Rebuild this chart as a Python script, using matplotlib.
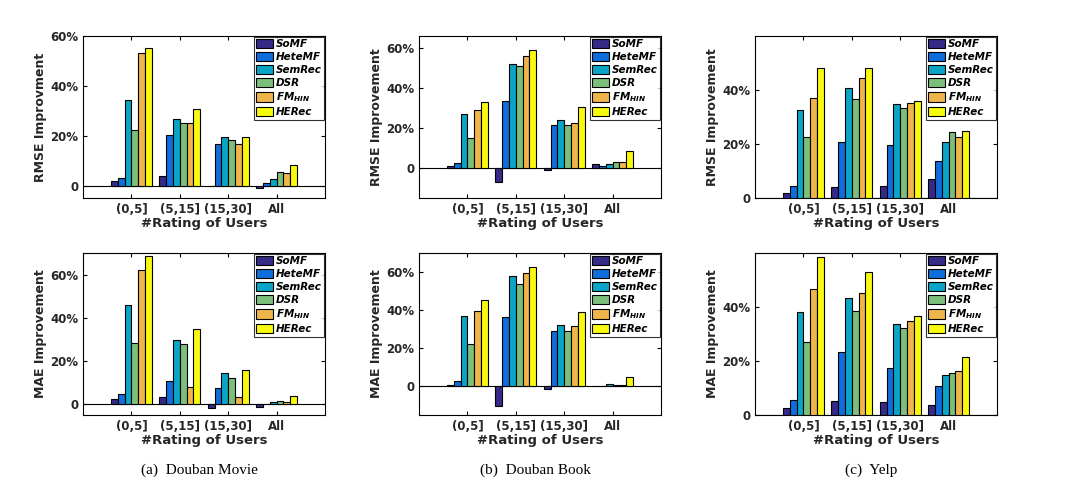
import matplotlib
matplotlib.use("Agg")
import matplotlib.pyplot as plt
import numpy as np
from matplotlib.ticker import FuncFormatter

plt.rcParams['mathtext.fontset'] = 'custom'
plt.rcParams['mathtext.it'] = 'DejaVu Sans:italic:bold'
plt.rcParams['mathtext.rm'] = 'DejaVu Sans:bold'

groups = ['(0,5]', '(5,15]', '(15,30]', 'All']
methods = ['SoMF', 'HeteMF', 'SemRec', 'DSR', r'$\mathit{FM}_{\mathit{HIN}}$', 'HERec']
colors = ['#352A87', '#0F6EDB', '#0AA5C6', '#7CBF7B', '#F0B54A', '#F8FA0D']

# values [group][method] in %
movie_rmse = [[2, 3, 34.5, 22.3, 53.3, 55.3],
              [3.7, 20.3, 26.8, 25.2, 25.2, 30.8],
              [-0.3, 16.8, 19.5, 18.3, 16.8, 19.5],
              [-0.8, 0.9, 2.8, 5.3, 4.9, 8.2]]
movie_mae = [[2.3, 4.6, 46, 28.3, 62.3, 68.8],
             [3.3, 10.7, 29.8, 28, 8, 35],
             [-1.8, 7.4, 14.4, 12, 3.2, 15.8],
             [-1.3, 0.1, 0.9, 1.4, 0.9, 3.6]]
book_rmse = [[1, 2.3, 27, 15.2, 29, 33],
             [-7, 33.5, 52.2, 51.2, 56.2, 59.2],
             [-1.2, 21.6, 24.1, 21.6, 22.6, 30.5],
             [1.8, 1, 1.8, 2.8, 2.8, 8.3]]
book_mae = [[1, 3, 37, 22, 39.5, 45.5],
            [-10.5, 36.3, 58, 53.7, 59.5, 62.6],
            [-1.5, 29, 32.1, 29, 31.5, 39],
            [0.4, 0.4, 1.4, 0.5, 1, 4.8]]
yelp_rmse = [[1.8, 4.4, 32.6, 22.6, 37, 48.2],
             [4, 20.7, 40.7, 36.7, 44.6, 48.2],
             [4.4, 19.6, 34.8, 33.4, 35.2, 35.9],
             [7, 13.6, 20.7, 24.4, 22.6, 24.9]]
yelp_mae = [[2.7, 5.7, 38.1, 27, 46.6, 58.5],
            [5.3, 23.3, 43.4, 38.4, 45.2, 52.9],
            [4.9, 17.3, 33.6, 32.1, 34.8, 36.6],
            [3.8, 10.6, 15, 15.7, 16.2, 21.4]]

captions = ['(a)  Douban Movie', '(b)  Douban Book', '(c)  Yelp']

W, H = 1067, 495
fig = plt.figure(figsize=(W / 100, H / 100), dpi=100)

lefts = [83, 419, 755]
width = 242
tops = [36, 253]
height = 162

panels = [
    (movie_rmse, 'RMSE Improvment', (-5, 60), [0, 20, 40, 60]),
    (book_rmse, 'RMSE Improvement', (-15, 66), [0, 20, 40, 60]),
    (yelp_rmse, 'RMSE Improvement', (0, 60), [0, 20, 40]),
    (movie_mae, 'MAE Improvement', (-5, 70), [0, 20, 40, 60]),
    (book_mae, 'MAE Improvement', (-15, 70), [0, 20, 40, 60]),
    (yelp_mae, 'MAE Improvement', (0, 60), [0, 20, 40]),
]

fmt = FuncFormatter(lambda v, p: '0' if v == 0 else f'{int(v)}%')
bw = 0.14
x = np.arange(1, len(groups) + 1)
for i, (data, ylabel, ylim, yticks) in enumerate(panels):
    r, c = divmod(i, 3)
    ax = fig.add_axes([lefts[c] / W, 1 - (tops[r] + height) / H, width / W, height / H])
    arr = np.array(data)
    for m in range(len(methods)):
        ax.bar(x + (m - 2.5) * bw, arr[:, m], bw, color=colors[m],
               edgecolor='black', linewidth=0.8, label=methods[m], zorder=3)
    ax.axhline(0, color='black', lw=0.8, zorder=2)
    ax.set_xlim(0, 5)
    ax.set_ylim(*ylim)
    ax.set_xticks(x)
    ax.set_xticklabels(groups)
    ax.set_yticks(yticks)
    ax.yaxis.set_major_formatter(fmt)
    ax.tick_params(direction='in', top=True, right=True, length=3, labelsize=8.5)
    for lab in ax.get_xticklabels() + ax.get_yticklabels():
        lab.set_fontweight('bold')
        lab.set_color('#262626')
    for s in ax.spines.values():
        s.set_linewidth(0.8)
    ax.set_ylabel(ylabel, fontsize=9, fontweight='bold', color='#262626', labelpad=2)
    ax.set_xlabel('#Rating of Users', fontsize=9.5, fontweight='bold', color='#262626', labelpad=1)
    leg = ax.legend(loc='upper right', borderaxespad=0.05, fancybox=False,
                    edgecolor='black', handlelength=1.6, handleheight=1.0,
                    handletextpad=0.3, labelspacing=0.25, borderpad=0.25,
                    prop={'size': 7.5, 'weight': 'bold', 'style': 'italic'})
    leg.get_frame().set_linewidth(0.8)
    leg.set_zorder(5)
    if r == 1:
        fig.text((lefts[c] + width / 2 - 5) / W, 1 - 470 / H, captions[c],
                 ha='center', va='center', fontsize=11, family='Liberation Serif')

fig.savefig('out.png', dpi=100, facecolor='white')
